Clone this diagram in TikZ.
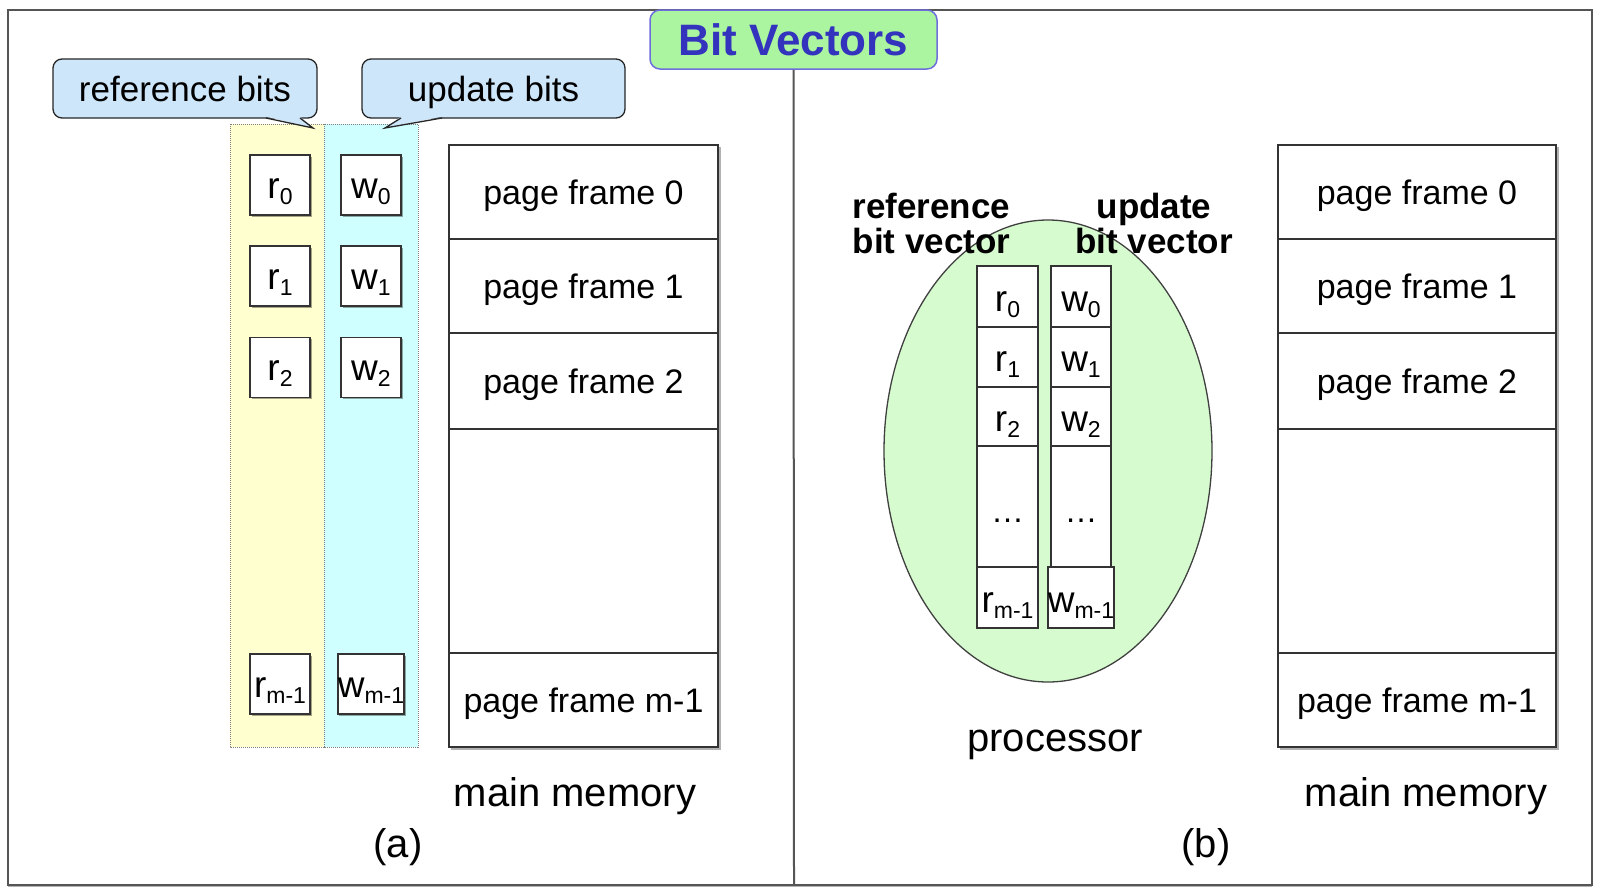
\documentclass[tikz,border=0pt]{standalone}
\usepackage{fontspec}
\setmainfont{Liberation Sans}
\usetikzlibrary{shapes.geometric,shadows}
\definecolor{titlefill}{RGB}{172,245,160}
\definecolor{titledraw}{RGB}{110,110,220}
\definecolor{titletext}{RGB}{51,51,190}
\definecolor{callfill}{RGB}{206,230,250}
\definecolor{yelcol}{RGB}{255,255,208}
\definecolor{cyacol}{RGB}{208,255,255}
\definecolor{ellfill}{RGB}{214,251,206}
\definecolor{framegray}{RGB}{85,85,85}
\newcommand{\fsz}[1]{\fontsize{#1}{#1}\selectfont}
\newcommand{\bitsub}[2]{#1\raisebox{-6pt}{\fsz{23}#2}}
\begin{document}
\begin{tikzpicture}[x=1pt,y=-1pt,
  smallbox/.style={draw=black!80, line width=1.8pt, fill=white, inner sep=0pt,
     minimum width=60pt, minimum height=60pt, font=\fsz{37},
     text height=26pt, text depth=0pt,
     drop shadow={shadow xshift=1.5pt, shadow yshift=-1.5pt, opacity=0.35, fill=black}},
  memcell/.style={draw=black!80, line width=1.4pt, fill=white, inner sep=0pt, font=\fsz{34},
     text height=24pt, text depth=0pt},
  veccell/.style={draw=black!80, line width=1.4pt, fill=white, inner sep=0pt, font=\fsz{37},
     text height=29pt, text depth=0pt},
  dotcell/.style={draw=black!80, line width=1.4pt, fill=white, inner sep=0pt, font=\fsz{33},
     text height=32pt, text depth=0pt},
  callbox/.style={draw=black!85, line width=1.3pt, fill=callfill, rounded corners=9pt,
     inner sep=0pt, minimum height=59pt, font=\fsz{35}, text height=25.5pt, text depth=0pt},
  txt/.style={inner sep=0pt}
]
\useasboundingbox (0,0) rectangle (1600,892);

% outer frame
\draw[framegray, line width=1.8pt, fill=white,
  drop shadow={shadow xshift=0pt, shadow yshift=-2pt, opacity=0.3, fill=black}]
  (8,10) rectangle (1592,885);

% divider
\coordinate (divb) at (794,885);

% title
\node[draw=titledraw, line width=1.5pt, fill=titlefill, rounded corners=10pt,
      minimum width=287pt, minimum height=59pt, inner sep=0pt,
      font=\fsz{44}\bfseries, text=titletext] (title) at (793.5,39.5) {Bit Vectors};
\draw[framegray, line width=2pt] (title.south) -- (divb);

% ---------- part (a) ----------
\draw[gray, densely dotted, line width=1pt, fill=yelcol] (230,124) rectangle (324,747);
\draw[gray, densely dotted, line width=1pt, fill=cyacol] (324,124) rectangle (418,747);

% callouts
\node[callbox, minimum width=264pt] (refcall) at (185,88.5) {reference bits};
\node[callbox, minimum width=263pt] (updcall) at (493.5,88.5) {update bits};
\fill[callfill] (266,116.6) -- (313,128) -- (300,116.6) -- cycle;
\draw[black!85, line width=1.3pt] (266,118) -- (313,128) -- (300,118);
\fill[callfill] (442,116.6) -- (385,128) -- (401,116.6) -- cycle;
\draw[black!85, line width=1.3pt] (442,118) -- (385,128) -- (401,118);

% bit boxes
\node[smallbox] (ar0) at (280,185) {\bitsub{r}{0}};
\node[smallbox] (ar1) at (280,276) {\bitsub{r}{1}};
\node[smallbox] (ar2) at (280,367.5) {\bitsub{r}{2}};
\node[smallbox] (arm) at (280,684) {\bitsub{r}{m-1}};
\node[smallbox] (aw0) at (371,185) {\bitsub{w}{0}};
\node[smallbox] (aw1) at (371,276) {\bitsub{w}{1}};
\node[smallbox] (aw2) at (371,367.5) {\bitsub{w}{2}};
\node[smallbox] (awm) at (371,684) {\bitsub{w}{m-1}};

% main memory (a)
\fill[black, opacity=0.3] (451,147) rectangle (720.5,749.5);
\node[memcell, minimum width=269pt, minimum height=94pt] (am0) at (583.5,192) {page frame 0};
\node[memcell, minimum width=269pt, minimum height=94pt] (am1) at (583.5,286) {page frame 1};
\node[memcell, minimum width=269pt, minimum height=96pt] (am2) at (583.5,381) {page frame 2};
\node[memcell, minimum width=269pt, minimum height=224pt] (am3) at (583.5,541) {};
\node[memcell, minimum width=269pt, minimum height=94pt] (amm) at (583.5,700) {page frame m-1};
\node[txt, font=\fsz{40}] (amlbl) at (575,796) {main memory};
\node[txt, font=\fsz{40}] (alabel) at (398,847) {(a)};

% ---------- part (b) ----------
\node[ellipse, draw=black!75, line width=1.3pt, fill=ellfill, inner sep=0pt,
      minimum width=328pt, minimum height=462pt] (proc) at (1048,451) {};

\node[veccell, minimum width=61pt, minimum height=61pt] (br0) at (1007.5,296.5) {\bitsub{r}{0}};
\node[veccell, minimum width=61pt, minimum height=60pt] (br1) at (1007.5,357) {\bitsub{r}{1}};
\node[veccell, minimum width=61pt, minimum height=59pt] (br2) at (1007.5,416.5) {\bitsub{r}{2}};
\node[dotcell, minimum width=61pt, minimum height=121pt] (brd) at (1007.5,506.5) {…};
\node[veccell, minimum width=61pt, minimum height=61pt] (brm) at (1007.5,597.5) {\bitsub{r}{m-1}};
\node[veccell, minimum width=60pt, minimum height=61pt] (bw0) at (1081,296.5) {\bitsub{w}{0}};
\node[veccell, minimum width=60pt, minimum height=60pt] (bw1) at (1081,357) {\bitsub{w}{1}};
\node[veccell, minimum width=60pt, minimum height=59pt] (bw2) at (1081,416.5) {\bitsub{w}{2}};
\node[dotcell, minimum width=60pt, minimum height=121pt] (bwd) at (1081,506.5) {…};
\node[veccell, minimum width=60pt, minimum height=61pt] (bwm) at (1081,597.5) {\bitsub{w}{m-1}};

\node[txt, font=\fsz{35}\bfseries, align=left] (reflbl) at (931.5,223) {reference\\bit vector};
\node[txt, font=\fsz{35}\bfseries, align=center] (updlbl) at (1154,223) {update\\bit vector};
\node[txt, font=\fsz{40}] (proclbl) at (1055,745) {processor};

% main memory (b)
\fill[black, opacity=0.3] (1280,147) rectangle (1558.5,749.5);
\node[memcell, minimum width=278pt, minimum height=94pt] (bm0) at (1417,192) {page frame 0};
\node[memcell, minimum width=278pt, minimum height=94pt] (bm1) at (1417,286) {page frame 1};
\node[memcell, minimum width=278pt, minimum height=96pt] (bm2) at (1417,381) {page frame 2};
\node[memcell, minimum width=278pt, minimum height=224pt] (bm3) at (1417,541) {};
\node[memcell, minimum width=278pt, minimum height=94pt] (bmm) at (1417,700) {page frame m-1};
\node[txt, font=\fsz{40}] (bmlbl) at (1426,796) {main memory};
\node[txt, font=\fsz{40}] (blabel) at (1206,847) {(b)};
\end{tikzpicture}
\end{document}
